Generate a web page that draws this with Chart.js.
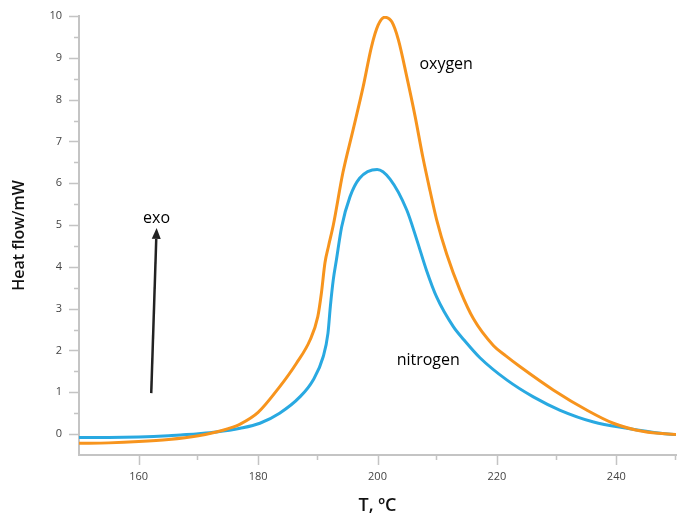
<!DOCTYPE html>
<html>
<head>
<meta charset="utf-8">
<script src="https://cdn.jsdelivr.net/npm/chart.js@4.4.1/dist/chart.umd.min.js"></script>
<style>
  html, body { margin: 0; padding: 0; background: #ffffff; }
  #wrap { width: 683px; height: 520px; position: relative; }
</style>
</head>
<body>
<div id="wrap"><canvas id="c" width="683" height="520"></canvas></div>
<script>
// ---- data ----
const oxygenT = [150, 155, 160, 165, 170, 173, 175, 177, 180, 183.6, 186.4, 188.7, 190.0, 190.6, 191.2, 191.8, 192.6, 194.2, 195.9, 197.6, 199.0, 200.1, 201.2, 202.4, 203.5, 204.9, 206.3, 207.6, 208.8, 209.9, 211.6, 213.8, 216.1, 219.4, 221.5, 223.9, 229.5, 235.1, 239.5, 244.6, 250];
const oxygenQ = [-0.22, -0.21, -0.18, -0.13, -0.04, 0.05, 0.13, 0.24, 0.52, 1.13, 1.69, 2.25, 2.81, 3.37, 4.10, 4.50, 5.00, 6.25, 7.27, 8.31, 9.27, 9.78, 9.97, 9.86, 9.43, 8.55, 7.60, 6.62, 5.82, 5.13, 4.30, 3.45, 2.75, 2.12, 1.87, 1.61, 1.05, 0.57, 0.26, 0.06, -0.01];

const nitrogenT = [150, 155, 160, 165, 167, 170, 173, 177, 180.3, 183.6, 187.0, 189.2, 190.9, 191.7, 192.1, 192.6, 193.1, 194.0, 195.4, 197.0, 199.95, 202.1, 204.9, 206.6, 208.2, 209.9, 212.7, 214.5, 217.2, 221.7, 226.1, 230.6, 236.2, 241.8, 247.4, 250];
const nitrogenQ = [-0.08, -0.08, -0.07, -0.04, -0.02, 0.01, 0.05, 0.14, 0.26, 0.50, 0.89, 1.29, 1.85, 2.41, 3.05, 3.70, 4.15, 4.96, 5.68, 6.12, 6.33, 6.10, 5.36, 4.64, 3.92, 3.28, 2.57, 2.25, 1.82, 1.29, 0.89, 0.57, 0.29, 0.14, 0.02, -0.01];

const xTickLabels = [160, 180, 200, 220, 240];
const xMinorTicks = [170, 190, 210, 230, 250];
const yTickLabels = [0, 1, 2, 3, 4, 5, 6, 7, 8, 9, 10];
const yMinorTicks = [0.5, 1.5, 2.5, 3.5, 4.5, 5.5, 6.5, 7.5, 8.5, 9.5];

const seriesNames = ['oxygen', 'nitrogen'];
// annotation anchors in data units: [T, heat flow]
const oxygenLabelAt = [211.5, 8.83];
const nitrogenLabelAt = [208.5, 1.77];
const exoLabelAt = [163.0, 5.17];
const exoArrowFrom = [162.1, 0.98];
const exoArrowTo = [163.0, 4.93];

// ---- chart ----
const ORANGE = '#F7941D';
const BLUE = '#29A9E1';
const AXIS = '#c4c4c4';
const FONT = "'Open Sans', 'DejaVu Sans', sans-serif";

function pts(xs, ys) { return xs.map((x, i) => ({ x: x, y: ys[i] })); }

const extras = {
  id: 'extras',
  afterDraw(chart) {
    const ctx = chart.ctx;
    const xs = chart.scales.x, ys = chart.scales.y;
    const ca = chart.chartArea;
    ctx.save();
    // tick marks
    ctx.strokeStyle = AXIS;
    ctx.lineWidth = 1.5;
    ctx.beginPath();
    yTickLabels.forEach(v => { const p = Math.round(ys.getPixelForValue(v)) + 0.5; ctx.moveTo(ca.left - 10, p); ctx.lineTo(ca.left, p); });
    yMinorTicks.forEach(v => { const p = Math.round(ys.getPixelForValue(v)) + 0.5; ctx.moveTo(ca.left - 5, p); ctx.lineTo(ca.left, p); });
    xTickLabels.forEach(v => { const p = Math.round(xs.getPixelForValue(v)) + 0.5; ctx.moveTo(p, ca.bottom); ctx.lineTo(p, ca.bottom + 10); });
    xMinorTicks.forEach(v => { const p = Math.round(xs.getPixelForValue(v)) - 0.5; ctx.moveTo(p, ca.bottom); ctx.lineTo(p, ca.bottom + 5); });
    ctx.stroke();

    // arrow
    const x0 = xs.getPixelForValue(exoArrowFrom[0]), y0 = ys.getPixelForValue(exoArrowFrom[1]);
    const x1 = xs.getPixelForValue(exoArrowTo[0]), y1 = ys.getPixelForValue(exoArrowTo[1]);
    const ang = Math.atan2(y1 - y0, x1 - x0);
    const hl = 11, hw = 4.5;
    const bx = x1 - hl * Math.cos(ang), by = y1 - hl * Math.sin(ang);
    ctx.strokeStyle = '#222';
    ctx.fillStyle = '#222';
    ctx.lineWidth = 2.5;
    ctx.beginPath(); ctx.moveTo(x0, y0); ctx.lineTo(bx, by); ctx.stroke();
    ctx.beginPath();
    ctx.moveTo(x1, y1);
    ctx.lineTo(bx + hw * Math.sin(ang), by - hw * Math.cos(ang));
    ctx.lineTo(bx - hw * Math.sin(ang), by + hw * Math.cos(ang));
    ctx.closePath(); ctx.fill();

    // labels
    ctx.fillStyle = '#000';
    ctx.font = "16px " + FONT;
    ctx.textAlign = 'center';
    ctx.textBaseline = 'middle';
    ctx.fillText(seriesNames[0], xs.getPixelForValue(oxygenLabelAt[0]), ys.getPixelForValue(oxygenLabelAt[1]));
    ctx.fillText(seriesNames[1], xs.getPixelForValue(nitrogenLabelAt[0]), ys.getPixelForValue(nitrogenLabelAt[1]));
    ctx.fillText('exo', xs.getPixelForValue(exoLabelAt[0]), ys.getPixelForValue(exoLabelAt[1]));
    ctx.restore();
  }
};

new Chart(document.getElementById('c'), {
  type: 'line',
  data: {
    datasets: [
      { label: seriesNames[0], data: pts(oxygenT, oxygenQ), borderColor: ORANGE, borderWidth: 3, pointRadius: 0, cubicInterpolationMode: 'monotone', fill: false },
      { label: seriesNames[1], data: pts(nitrogenT, nitrogenQ), borderColor: BLUE, borderWidth: 3, pointRadius: 0, cubicInterpolationMode: 'monotone', fill: false }
    ]
  },
  options: {
    responsive: false,
    animation: false,
    events: [],
    layout: { padding: { top: 16, right: 7, left: 0, bottom: 0 } },
    plugins: { legend: { display: false }, tooltip: { enabled: false } },
    scales: {
      x: {
        type: 'linear', min: 150, max: 250,
        afterFit: s => { s.height = 65; },
        afterBuildTicks: s => { s.ticks = xTickLabels.map(v => ({ value: v })); },
        grid: { display: true, drawOnChartArea: false, drawTicks: true, tickLength: 10, color: 'rgba(0,0,0,0)' },
        border: { display: true, color: AXIS, width: 2 },
        ticks: { font: { family: FONT, size: 11 }, color: '#444', padding: 5, maxRotation: 0 },
        title: { display: true, text: 'T, ºC', font: { family: FONT, size: 18, weight: '600' }, color: '#111', padding: { top: 0, bottom: 3 } }
      },
      y: {
        type: 'linear', min: -0.5, max: 10,
        afterFit: s => { s.width = 79; },
        afterBuildTicks: s => { s.ticks = yTickLabels.map(v => ({ value: v })); },
        grid: { display: true, drawOnChartArea: false, drawTicks: true, tickLength: 10, color: 'rgba(0,0,0,0)' },
        border: { display: true, color: AXIS, width: 2 },
        ticks: { font: { family: FONT, size: 11 }, color: '#444', padding: 7 },
        title: { display: true, text: 'Heat flow/mW', font: { family: FONT, size: 16, weight: '600' }, color: '#111', padding: { top: 10, bottom: 0 } }
      }
    }
  },
  plugins: [extras]
});
</script>
</body>
</html>
